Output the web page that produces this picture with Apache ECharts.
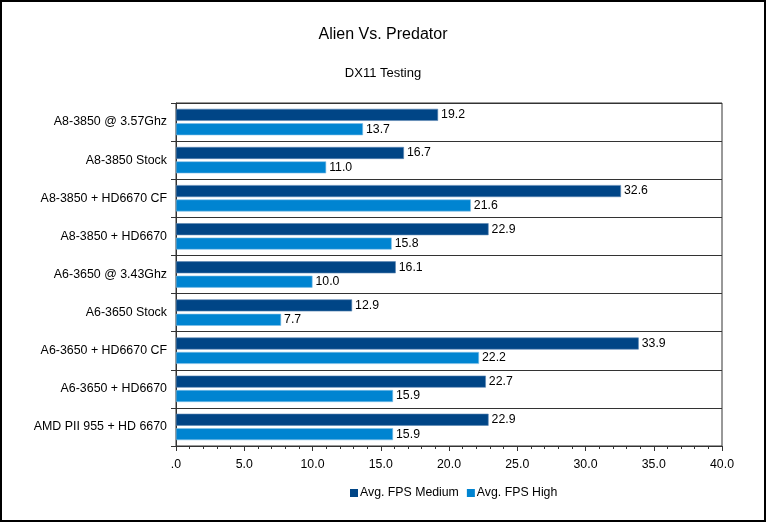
<!DOCTYPE html>
<html><head><meta charset="utf-8">
<script src="https://cdn.jsdelivr.net/npm/echarts@6/dist/echarts.min.js"></script>
<style>
html,body{margin:0;padding:0;background:#fff;}
#frame{position:absolute;left:0;top:0;width:762px;height:518px;border:2px solid #000;}
#c{width:762px;height:518px;}
</style></head><body>
<div id="frame"><div id="c"></div></div>
<script>
const categories = ["A8-3850 @ 3.57Ghz","A8-3850 Stock","A8-3850 + HD6670 CF","A8-3850 + HD6670","A6-3650 @ 3.43Ghz","A6-3650 Stock","A6-3650 + HD6670 CF","A6-3650 + HD6670","AMD PII 955 + HD 6670"];
const fpsMedium = [19.2,16.7,32.6,22.9,16.1,12.9,33.9,22.7,22.9];
const fpsHigh = [13.7,11.0,21.6,15.8,10.0,7.7,22.2,15.9,15.9];
const seriesNames = ["Avg. FPS Medium","Avg. FPS High"];
const font = "Liberation Sans";
const chart = echarts.init(document.getElementById('c'));
chart.setOption({
  animation:false,
  textStyle:{fontFamily:font},
  title:[
    {text:"Alien Vs. Predator",left:'center',top:20,textStyle:{fontFamily:font,fontSize:16,fontWeight:'normal',color:'#000'}},
    {text:"DX11 Testing",left:'center',top:60,textStyle:{fontFamily:font,fontSize:13,fontWeight:'normal',color:'#000'}}
  ],
  legend:{bottom:16,left:343,itemWidth:8,itemHeight:8,itemGap:8,icon:'rect',
    itemStyle:{borderWidth:0},
    textStyle:{fontFamily:font,fontSize:12.3,color:'#000',padding:[0,0,0,-3]},data:seriesNames},
  grid:{left:174,right:42,top:101,bottom:74,containLabel:false,show:true,borderColor:'#333',borderWidth:1},
  xAxis:{type:'value',min:0,max:40,interval:5,
    axisLine:{show:true,lineStyle:{color:'#333'}},
    axisTick:{show:true,length:5,lineStyle:{color:'#333'}},
    minorTick:{show:true,splitNumber:5,length:3,lineStyle:{color:'#333'}},
    splitLine:{show:false},
    axisLabel:{fontFamily:font,fontSize:12.3,color:'#000',margin:13,formatter:v=>v===0?'.0':v.toFixed(1)}},
  yAxis:{type:'category',inverse:true,data:categories,
    axisLine:{show:true,lineStyle:{color:'#333'}},
    axisTick:{show:true,length:5,lineStyle:{color:'#333'}},
    splitLine:{show:true,lineStyle:{color:'#333',width:1}},
    axisLabel:{fontFamily:font,fontSize:12.4,color:'#000',margin:9}},
  series:[
    {name:seriesNames[0],type:'bar',data:fpsMedium,barWidth:12,barGap:'20%',
      itemStyle:{color:'#004586',borderColor:'#5a86b3',borderWidth:0.6},
      label:{show:true,position:'right',distance:3,fontFamily:font,fontSize:12.3,color:'#000',formatter:p=>p.value.toFixed(1)}},
    {name:seriesNames[1],type:'bar',data:fpsHigh,barWidth:12,
      itemStyle:{color:'#0084d1',borderColor:'#7fc0e8',borderWidth:0.6},
      label:{show:true,position:'right',distance:3,fontFamily:font,fontSize:12.3,color:'#000',formatter:p=>p.value.toFixed(1)}}
  ]
});
</script></body></html>
